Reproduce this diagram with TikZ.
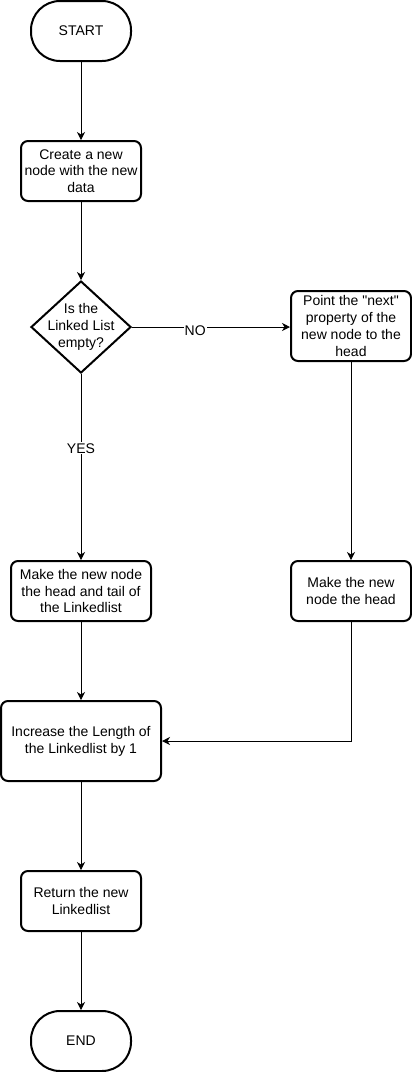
\documentclass[tikz,border=0pt]{standalone}
\usepackage{fontspec}
\setmainfont{Liberation Sans}[Ligatures=TeXOff]
\usetikzlibrary{shapes.geometric,arrows.meta}
\begin{document}
\begin{tikzpicture}[x=1pt,y=-1pt,
  font=\fontsize{14pt}{16.8pt}\selectfont,
  term/.style={draw,line width=2pt,rounded corners=29pt,minimum width=100pt,minimum height=60pt,inner sep=0pt},
  proc/.style={draw,line width=2pt,rounded corners=7pt,align=center,inner sep=0pt},
  dec/.style={draw,diamond,line width=2pt,minimum width=100pt,minimum height=92pt,inner sep=0pt},
  arr/.style={draw,line width=1pt,-{Stealth[length=8pt,width=8pt,inset=2.5pt]}},
  lab/.style={fill=white,inner sep=1pt}]
\useasboundingbox (0,0) rectangle (412,1072);
\node[term] (start) at (81,31) {START};
\node[proc,minimum width=120pt,minimum height=60pt] (create) at (81,171) {Create a new\\node with the new\\data};
\node[dec] (dec) at (81,327) {};
\node[align=center,inner sep=0pt] (dectext) at (81,327) {Is the\\Linked List\\empty?};
\node[proc,minimum width=120pt,minimum height=70pt] (point) at (351,326) {Point the "next"\\property of the\\new node to the\\head};
\node[proc,minimum width=140pt,minimum height=60pt] (mkboth) at (81,591) {Make the new node\\the head and tail of\\the Linkedlist};
\node[proc,minimum width=120pt,minimum height=60pt] (mkhead) at (351,591) {Make the new\\node the head};
\node[proc,minimum width=160pt,minimum height=80pt] (inc) at (81,741) {Increase the Length of\\the Linkedlist by 1};
\node[proc,minimum width=120pt,minimum height=60pt] (ret) at (81,901) {Return the new\\Linkedlist};
\node[term] (end) at (81,1041) {END};
\draw[arr] (start) -- (create);
\draw[arr] (create) -- (dec);
\draw[arr] (dec.east) -- node[lab,pos=0.4,yshift=-4pt] (no) {NO} (point.west |- dec.east);
\draw[arr] (dec) -- node[lab,pos=0.4] (yes) {YES} (mkboth);
\draw[arr] (point) -- (mkhead);
\draw[arr] (mkboth) -- (inc);
\draw[arr] (mkhead.south) |- (inc.east);
\draw[arr] (inc) -- (ret);
\draw[arr] (ret) -- (end);
\end{tikzpicture}
\end{document}
